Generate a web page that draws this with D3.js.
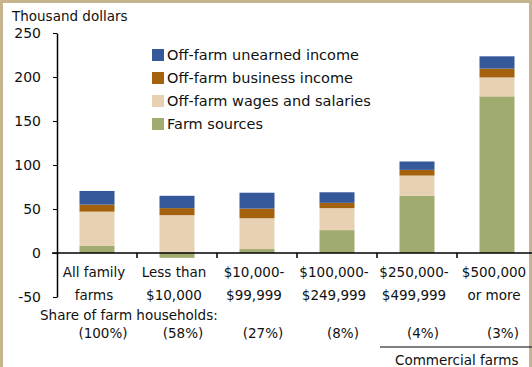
<!DOCTYPE html>
<html>
<head>
<meta charset="utf-8">
<script src="https://cdn.jsdelivr.net/npm/d3@7"></script>
<style>
  body { margin: 0; background: #fff; }
  svg { display: block; font-family: "DejaVu Sans", sans-serif; }
  .axis path, .axis line { stroke: #000; }
</style>
</head>
<body>
<svg width="532" height="367"></svg>
<script>
var categories = ["All family farms", "Less than $10,000", "$10,000-$99,999", "$100,000-$249,999", "$250,000-$499,999", "$500,000 or more"];
var labelLines = [["All family", "farms"], ["Less than", "$10,000"], ["$10,000-", "$99,999"], ["$100,000-", "$249,999"], ["$250,000-", "$499,999"], ["$500,000", "or more"]];
var shares = ["(100%)", "(58%)", "(27%)", "(8%)", "(4%)", "(3%)"];
var farmSources = [8, -5.5, 4.5, 26, 65, 178];
var offFarmWages = [39, 43, 35, 25, 23, 21.5];
var offFarmBusiness = [8, 8, 11, 6, 6.5, 10];
var offFarmUnearned = [15.5, 14, 18, 12, 9.5, 14];
var yTicks = [-50, 0, 50, 100, 150, 200, 250];

var series = [
  {key: "farm", name: "Farm sources", color: "#a0ab6f", values: farmSources},
  {key: "wages", name: "Off-farm wages and salaries", color: "#e8d1b2", values: offFarmWages},
  {key: "business", name: "Off-farm business income", color: "#a4620f", values: offFarmBusiness},
  {key: "unearned", name: "Off-farm unearned income", color: "#35589a", values: offFarmUnearned}
];

var table = categories.map(function(c, i) {
  var row = {cat: c};
  series.forEach(function(s) { row[s.key] = s.values[i]; });
  return row;
});

var svg = d3.select("svg");

svg.append("rect")
  .attr("x", 1.5).attr("y", 1.5)
  .attr("width", 529).attr("height", 370)
  .attr("fill", "none")
  .attr("stroke", "#c6b48e")
  .attr("stroke-width", 3);

var x = d3.scaleBand().domain(categories).range([57, 537]).paddingInner(0.5625).paddingOuter(0.28125),
    y = d3.scaleLinear().domain([-50, 250]).range([297, 33]);

var stack = d3.stack()
  .keys(series.map(function(s) { return s.key; }))
  .offset(d3.stackOffsetDiverging);
var stacked = stack(table);

svg.append("text")
  .attr("x", 12).attr("y", 21)
  .attr("font-size", 13.5)
  .attr("fill", "#111")
  .text("Thousand dollars");

// y axis
var yAxis = svg.append("g")
  .attr("class", "axis")
  .attr("transform", "translate(57,0)")
  .call(d3.axisLeft(y).tickValues(yTicks).tickSize(4).tickSizeOuter(0)
    .tickFormat(function(d) { return String(d); }));
yAxis.select(".domain").attr("stroke-width", 1.5);
yAxis.selectAll("text").attr("font-size", 14).attr("fill", "#111").attr("x", -16).attr("font-family", "DejaVu Sans");

// bars
svg.append("g").selectAll("g")
  .data(stacked)
  .enter().append("g")
    .attr("fill", function(d, i) { return series[i].color; })
  .selectAll("rect")
  .data(function(d) { return d; })
  .enter().append("rect")
    .attr("x", function(d) { return x(d.data.cat); })
    .attr("y", function(d) { return y(d[1]); })
    .attr("width", x.bandwidth())
    .attr("height", function(d) { return y(d[0]) - y(d[1]); });

// x axis at zero
svg.append("line")
  .attr("x1", 52).attr("x2", 532)
  .attr("y1", y(0)).attr("y2", y(0))
  .attr("stroke", "#000").attr("stroke-width", 1.5);

var step = x.step();
svg.append("g").selectAll("line")
  .data(categories.slice(0, 5))
  .enter().append("line")
    .attr("x1", function(d) { return x(d) + x.bandwidth() + (step - x.bandwidth()) / 2; })
    .attr("x2", function(d) { return x(d) + x.bandwidth() + (step - x.bandwidth()) / 2; })
    .attr("y1", y(0)).attr("y2", y(0) + 5)
    .attr("stroke", "#000").attr("stroke-width", 1.5);

// category labels
var catText = svg.append("g").selectAll("text")
  .data(categories)
  .enter().append("text")
    .attr("text-anchor", "middle")
    .attr("font-size", 13.5)
    .attr("fill", "#111")
    .attr("transform", function(d) { return "translate(" + (x(d) + x.bandwidth() / 2 - 3) + ",0)"; });
catText.selectAll("tspan")
  .data(function(d, i) { return labelLines[i]; })
  .enter().append("tspan")
    .attr("x", 0)
    .attr("y", function(d, i) { return 277 + i * 23; })
    .text(function(d) { return d; });

svg.append("text")
  .attr("x", 40).attr("y", 320)
  .attr("font-size", 13.5)
  .attr("fill", "#111")
  .text("Share of farm households:");

svg.append("g").selectAll("text")
  .data(categories)
  .enter().append("text")
    .attr("x", function(d) { return x(d) + x.bandwidth() / 2 + 6; })
    .attr("y", 338)
    .attr("text-anchor", "middle")
    .attr("font-size", 13.5)
    .attr("fill", "#111")
    .text(function(d, i) { return shares[i]; });

svg.append("line")
  .attr("x1", 380).attr("x2", 532)
  .attr("y1", 347).attr("y2", 347)
  .attr("stroke", "#000").attr("stroke-width", 1.2);

svg.append("text")
  .attr("x", 395).attr("y", 365)
  .attr("font-size", 13.5)
  .attr("fill", "#111")
  .text("Commercial farms");

// legend
var legend = svg.append("g").selectAll("g")
  .data(series.slice().reverse())
  .enter().append("g")
    .attr("transform", function(d, i) { return "translate(152," + (49 + i * 23) + ")"; });
legend.append("rect")
  .attr("width", 12).attr("height", 12)
  .attr("fill", function(d) { return d.color; });
legend.append("text")
  .attr("x", 15).attr("y", 11)
  .attr("font-size", 14.5)
  .attr("fill", "#111")
  .text(function(d) { return d.name; });
</script>
</body>
</html>
